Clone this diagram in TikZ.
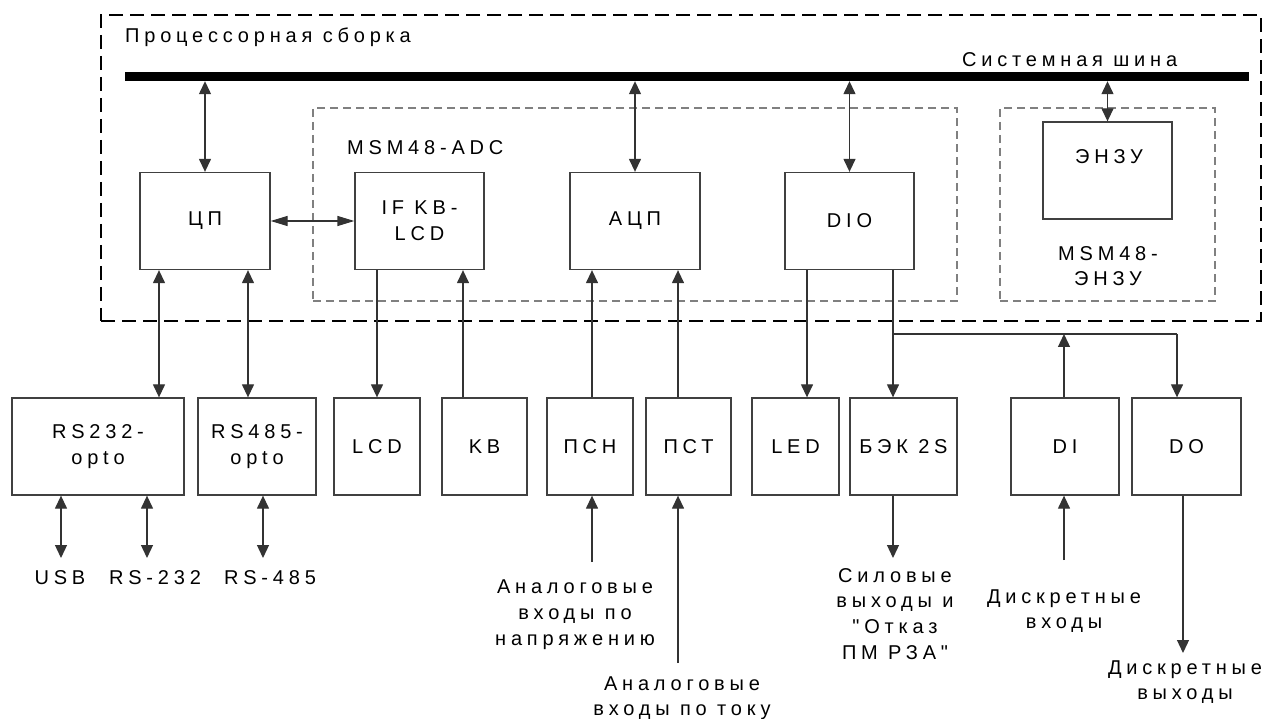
\documentclass[tikz,border=0pt]{standalone}
\usepackage{fontspec}
\setmainfont{Liberation Sans}[LetterSpace=24, Ligatures=TeXOff]
\usetikzlibrary{arrows.meta}
\begin{document}
\begin{tikzpicture}[x=1pt,y=-1pt,
  every node/.style={inner sep=0pt, font=\fontsize{20}{25.6}\selectfont},
  box/.style={draw=black!75, line width=1.3pt, fill=white, minimum height=97pt, align=center},
  conn/.style={draw=black!80, line width=1.3pt},
  tip/.style={-{Triangle[length=13pt,width=12pt]}},
  dbl/.style={{Triangle[length=13pt,width=12pt]}-{Triangle[length=13pt,width=12pt]}},
  dblh/.style={{Triangle[length=17pt,width=10pt]}-{Triangle[length=17pt,width=10pt]}},
  lbl/.style={align=center, anchor=base},
  grp/.style={draw=black!50, line width=1.4pt, dash pattern=on 8pt off 5pt},
]
\useasboundingbox (0,0) rectangle (1262,719);

% groups
\node[draw=black, line width=2pt, dash pattern=on 14pt off 7pt, minimum width=1160pt, minimum height=306pt] (proc) at (681,168) {};
\node[grp, minimum width=644pt, minimum height=193pt] (adcgrp) at (635,204.5) {};
\node[grp, minimum width=215pt, minimum height=193pt] (enzugrp) at (1107.5,204.5) {};

% bus
\node[fill=black, minimum width=1124pt, minimum height=9pt] (bus) at (687,76.5) {};

% labels of groups
\node[anchor=base west] (tproc) at (125,43) {Процессорная сборка};
\node[anchor=base west] (tbus) at (962,67) {Системная шина};
\node[anchor=base west] (tadc) at (347,155) {MSM48-ADC};
\node[lbl] (tenzu) at (1108,286) {MSM48-\\ЭНЗУ};

% upper boxes
\node[box, minimum width=130pt] (cpu) at (205,221) {ЦП};
\node[box, minimum width=129pt] (ifkb) at (419.5,221) {IF KB-\\LCD};
\node[box, minimum width=130pt] (adc) at (635,221) {АЦП};
\node[box, minimum width=129pt] (dio) at (849.5,221) {DIO};
\node[box, minimum width=129pt] (enzu) at (1107.5,170.5) {};
\node (enzut) at (1109,157) {ЭНЗУ};

% lower boxes
\node[box, minimum width=172pt] (rs232) at (98,446.5) {RS232-\\opto};
\node[box, minimum width=118pt] (rs485) at (257,446.5) {RS485-\\opto};
\node[box, minimum width=86pt] (lcd) at (377,446.5) {LCD};
\node[box, minimum width=85pt] (kb) at (484.5,446.5) {KB};
\node[box, minimum width=86pt] (psn) at (590,446.5) {ПСН};
\node[box, minimum width=85pt] (pst) at (688.5,446.5) {ПСТ};
\node[box, minimum width=87pt] (led) at (795.5,446.5) {LED};
\node[box, minimum width=107pt] (bek) at (903.5,446.5) {БЭК 2S};
\node[box, minimum width=108pt] (di) at (1065,446.5) {DI};
\node[box, minimum width=109pt] (dout) at (1186.5,446.5) {DO};

% free labels (anchor = baseline of last line)
\node[lbl] (lusb) at (60,584) {USB};
\node[lbl] (l232) at (155,584) {RS-232};
\node[lbl] (l485) at (270,584) {RS-485};
\node[lbl] (lpsn) at (575,645) {Аналоговые\\входы по\\напряжению};
\node[lbl] (lpst) at (682,715.6) {Аналоговые\\входы по току};
\node[lbl] (lbek) at (895,659) {Силовые\\выходы и\\"Отказ\\ПМ РЗА"};
\node[lbl] (ldi) at (1064,628.6) {Дискретные\\входы};
\node[lbl] (ldo) at (1185,699.6) {Дискретные\\выходы};

% x positions
\coordinate (xRSa) at (159,0);
\coordinate (xRSb) at (248,0);
\coordinate (xLCD) at (377,0);
\coordinate (xKB) at (463,0);
\coordinate (xPSN) at (592,0);
\coordinate (xPST) at (678,0);
\coordinate (xLED) at (807,0);
\coordinate (xBEK) at (893,0);
\coordinate (xDI) at (1064,0);
\coordinate (xDO) at (1177,0);
\coordinate (xDOo) at (1183,0);
\coordinate (xUSB) at (61,0);
\coordinate (xR232) at (147,0);
\coordinate (xR485) at (263,0);
\coordinate (yBr) at (0,334);
\coordinate (eUSB) at (61,558);
\coordinate (eR232) at (147,558);
\coordinate (eR485) at (263,558);
\coordinate (sPSN) at (592,562);
\coordinate (sPST) at (678,663);
\coordinate (eBEK) at (893,558);
\coordinate (sDI) at (1064,560);
\coordinate (eDO) at (1183,653);

% bus connections
\draw[conn,dbl] (cpu.north) -- (cpu.north |- bus.south);
\draw[conn,dbl] (adc.north) -- (adc.north |- bus.south);
\draw[conn,dbl] (dio.north) -- (dio.north |- bus.south);
\draw[conn,dbl] (enzu.north) -- (enzu.north |- bus.south);

% inner connections
\draw[conn,dblh] (cpu.east) -- (ifkb.west);
\draw[conn,dbl] (cpu.south -| xRSa) -- (rs232.north -| xRSa);
\draw[conn,dbl] (cpu.south -| xRSb) -- (rs485.north -| xRSb);
\draw[conn,tip] (ifkb.south -| xLCD) -- (lcd.north -| xLCD);
\draw[conn,tip] (kb.north -| xKB) -- (ifkb.south -| xKB);
\draw[conn,tip] (psn.north -| xPSN) -- (adc.south -| xPSN);
\draw[conn,tip] (pst.north -| xPST) -- (adc.south -| xPST);
\draw[conn,tip] (dio.south -| xLED) -- (led.north -| xLED);
\draw[conn,tip] (dio.south -| xBEK) -- (bek.north -| xBEK);
\draw[conn] (xBEK |- yBr) -- (xDO |- yBr);
\draw[conn,tip] (xDO |- yBr) -- (dout.north -| xDO);
\draw[conn,tip] (di.north -| xDI) -- (xDI |- yBr);

% outer connections
\draw[conn,dbl] (rs232.south -| xUSB) -- (eUSB);
\draw[conn,dbl] (rs232.south -| xR232) -- (eR232);
\draw[conn,dbl] (rs485.south -| xR485) -- (eR485);
\draw[conn,tip] (sPSN) -- (psn.south -| xPSN);
\draw[conn,tip] (sPST) -- (pst.south -| xPST);
\draw[conn,tip] (bek.south -| xBEK) -- (eBEK);
\draw[conn,tip] (sDI) -- (di.south -| xDI);
\draw[conn,tip] (dout.south -| xDOo) -- (eDO);
\end{tikzpicture}
\end{document}
